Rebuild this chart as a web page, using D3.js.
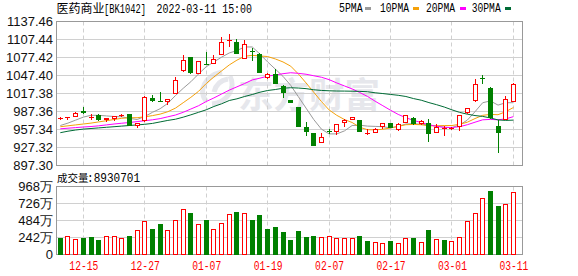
<!DOCTYPE html>
<html><head><meta charset="utf-8">
<script src="https://cdn.jsdelivr.net/npm/d3@7"></script>
<style>html,body{margin:0;padding:0;background:#fff;}svg{display:block;}</style>
</head><body>
<svg id="chart" width="578" height="276"></svg>
<script>
// ---------------- DATA ----------------
const dates = ["12-10","12-13","12-14","12-15","12-16","12-17","12-20","12-21","12-22","12-23","12-24","12-27","12-28","12-29","12-30","12-31","01-04","01-05","01-06","01-07","01-10","01-11","01-12","01-13","01-14","01-17","01-18","01-19","01-20","01-21","01-24","01-25","01-26","01-27","01-28","02-07","02-08","02-09","02-10","02-11","02-14","02-15","02-16","02-17","02-18","02-21","02-22","02-23","02-24","02-25","02-28","03-01","03-02","03-03","03-04","03-07","03-08","03-09","03-10","03-11"];
const opens = [975,977.5,978,989,978.5,981.8,972.5,974.5,979.5,983.5,963.5,971,1009.5,1005.2,1002.9,1017,1054.6,1078,1050.2,1067,1066.9,1081.9,1105,1104.1,1075.2,1088,1083.6,1043.6,1049.1,1030.7,1006,994.5,962.3,951.8,934.5,955.5,952.8,968.5,973.5,973.5,951.5,951.2,961.1,968.5,956.8,968.5,976.8,965.7,967.8,951.8,959,958.5,962.3,984.5,1004.5,1043,1027,963.5,974,1003];
const highs = [978,978.8,986,994.5,983.5,982.5,977,980.5,983,984,968.5,1013,1015.2,1019.5,1009,1045.7,1080.8,1078.5,1071.5,1086.3,1080.8,1112.4,1116.9,1108.6,1106.9,1093.6,1084.5,1051.9,1058.6,1031,1006.5,995,969.5,952,951.8,958.5,967,975,979,974,959,959.5,968.5,969,967.5,981.5,978.5,973,974.5,966,962.8,962,981.5,993.5,1041.9,1049,1027.5,974,1012.4,1035.7];
const lows = [973,972.5,977.5,984,973.5,972,970,972,979,963,960.2,970,1002.9,1004,997.4,1016.5,1053,1050.2,1050,1066,1066.5,1081.5,1094.6,1082.5,1075,1071.2,1051.5,1042,1033,1010.2,1001,962,947.3,929.5,934,950.2,949,961.2,973,952.5,948,951,958,959.5,955,968,965.2,965,936.2,951,946.2,957,955.5,984,1003.5,1033.5,975,918.5,973.5,1002.5];
const closes = [975.8,978.3,985.2,984.5,979,972.5,976,979.5,982.3,963.5,967.8,1012,1005.7,1004.5,1008.5,1040.7,1073.6,1051.2,1070.8,1066.3,1075.2,1102.9,1106.5,1083,1100.2,1086.3,1052,1050,1033.5,1017.9,1001.5,962.3,953.9,929.5,944.5,954.5,966.2,974,977.9,953,952,959,967.8,960.2,966.8,980.7,966.8,970.7,950.1,961.2,959.5,960.5,980.7,992.9,1033.5,1041.5,976.2,951.2,1008.5,1033.5];
const priorClose = 977;
const volumes = [2330000,2620000,2190000,2380000,2520000,2090000,2620000,2620000,2330000,2660000,3470000,4750000,3660000,4370000,3470000,4900000,6460000,5930000,4330000,4940000,3610000,4510000,5790000,6080000,5930000,4940000,5650000,3660000,3940000,3230000,2130000,3370000,2520000,2660000,2480000,2660000,2330000,2330000,2330000,2660000,1990000,1810000,1660000,1950000,1660000,2330000,2380000,1810000,3520000,2190000,2090000,1950000,2480000,4750000,5890000,8030000,9070000,6930000,7220000,8930701];
const ma5 = [964,968,973,978,981,981,980,979,978.5,976,974,979,986,992,1001,1014,1026,1037,1050,1062,1070,1078,1085,1089,1095,1095,1083,1070,1058,1046,1031,1012,993,974,958,950,950,955,964,964.5,963,962.5,962,960,962.5,966.5,967,966,965,963,961,960.5,965,973,987,1002,1005,998,1002,1002];
const ma10 = [962,963.5,965,966.5,968,970,972,974,976,977,977,978.5,980.5,983,987,993,1002,1011,1021,1034,1045,1055,1065,1073,1079.5,1081,1080,1079,1075,1070,1063,1050,1035,1019.5,1004,990,981,974,969,961,957,956.8,957.7,960,962.5,965.3,965.8,965.3,963.5,963.5,964,964,966,969.5,975.6,981,982.5,982,987,994];
const ma20 = [958.5,959.5,960.5,961.5,962.3,963.5,965,966.5,967.8,969,970.5,972,973.5,975.5,978.5,981.5,986,991.5,997,1004,1010,1016.5,1023,1028.5,1034,1040,1043,1046.3,1048.3,1050.4,1052,1051,1049.5,1047,1044.5,1040.5,1035,1030,1025,1019,1012.5,1004.5,997,989.5,982.5,977,972.5,969,965.3,962.5,961,960.7,962,965.3,969.5,973.5,974.2,973.5,975,978.8];
const ma30 = [952,954.5,956.5,958,959,960,961,962,963,964,965,966,967.5,970,972.5,974.5,977.9,981.8,986,990.2,995.7,1000.2,1005.7,1008.5,1012.4,1015.7,1019.5,1022.4,1024,1026.2,1027,1026.5,1025.5,1023.6,1022.5,1021.9,1021.5,1021.4,1021.2,1020.9,1020.3,1018.6,1017.3,1015.8,1014.4,1012.4,1008.9,1006.2,1002.2,998.7,994.8,990.1,985.9,982.9,980.6,979.2,976.6,973.3,972.5,973];
const priceTicks = ["1137.46","1107.44","1077.42","1047.40","1017.38","987.36","957.34","927.32","897.30"];
const volumeTicks = [0,2420000,4840000,7260000,9680000];
const volumeTickLabels = ["0","242万","484万","726万","968万"];
const dateTicks = ["12-15","12-27","01-07","01-19","02-07","02-17","03-01","03-11"];
const titleName = "医药商业", titleCode = "[BK1042]", titleTime = "2022-03-11 15:00";
const volumeLabel = "成交量", volumeLast = ":8930701";
const maNames = ["5PMA","10PMA","20PMA","30PMA"];
const watermark = "东方财富";

// ---------------- STYLE / LAYOUT ----------------
const RED = "#ff0000", GREEN = "#008000";
const maColors = ["#9a9a9a","#f5a10a","#ff00ff","#006b35"];
const mono = "'Liberation Mono','DejaVu Sans Mono',monospace";
const cjk = "'Noto Sans CJK SC','Noto Sans',sans-serif";
const sans = "'Liberation Sans',Arial,sans-serif";
const L = 56.5, R = 522.5, T1 = 21.5, B1 = 165.5, T2 = 186.5, B2 = 254.5;

const svg = d3.select("#chart");
const x = d3.scalePoint().domain(dates).range([60.3, 513.4]);
const yP = d3.scaleLinear().domain([+priceTicks[8], +priceTicks[0]]).range([B1, T1]);
const yV = d3.scaleLinear().domain([0, volumeTicks[4]]).range([B2, T2]);
const cxOf = d => Math.floor(x(d)) + 0.5;

// watermark
const wm = svg.append("g").attr("fill", "#e6e7ec");
wm.append("text").attr("x", 238).attr("y", 108).attr("font-family", cjk).attr("font-weight", 700)
  .attr("font-size", 35).attr("textLength", 142).attr("lengthAdjust", "spacingAndGlyphs").text(watermark);
wm.append("path").attr("fill", "none").attr("stroke", "#e6e7ec").attr("stroke-width", 5)
  .attr("d", "M206,101 C198,90 205,76 222,72 M212,104 C228,102 236,88 230,76 M214,92 C216,84 222,80 228,79");

// gridlines
const grid = svg.append("g").attr("stroke", "#d0d0d0").attr("stroke-width", 1);
priceTicks.slice(1, -1).forEach(t => {
  const yy = Math.round(yP(+t) - 0.5) + 0.5;
  grid.append("line").attr("x1", L).attr("x2", R).attr("y1", yy).attr("y2", yy);
});
volumeTicks.slice(1, -1).forEach(t => {
  const yy = Math.round(yV(t) - 0.5) + 0.5;
  grid.append("line").attr("x1", L).attr("x2", R).attr("y1", yy).attr("y2", yy);
});
dateTicks.forEach(d => {
  const xx = cxOf(d);
  grid.append("line").attr("x1", xx).attr("x2", xx).attr("y1", T1).attr("y2", B1).attr("stroke-dasharray", "4,3");
  grid.append("line").attr("x1", xx).attr("x2", xx).attr("y1", T2).attr("y2", B2).attr("stroke-dasharray", "4,3");
});

// frames
svg.append("rect").attr("x", L).attr("y", T1).attr("width", R - L).attr("height", B1 - T1)
  .attr("fill", "none").attr("stroke", "#999");
svg.append("rect").attr("x", L).attr("y", T2).attr("width", R - L).attr("height", B2 - T2)
  .attr("fill", "none").attr("stroke", "#999");

// moving averages
const idx = d3.range(dates.length);
[ma5, ma10, ma20, ma30].forEach((arr, k) => {
  const line = d3.line().x(i => x(dates[i])).y(i => yP(arr[i]));
  svg.append("path").attr("d", line(idx)).attr("fill", "none").attr("stroke", maColors[k]).attr("stroke-width", 1);
});

// candles
const cg = svg.append("g");
cg.selectAll("g").data(idx).join("g").each(function(i) {
  const g = d3.select(this);
  const cx = cxOf(dates[i]);
  const o = opens[i], c = closes[i], h = highs[i], l = lows[i];
  const up = c >= o, col = up ? RED : GREEN;
  const yt = Math.round(yP(Math.max(o, c))), yb = Math.round(yP(Math.min(o, c)));
  const yh = Math.round(yP(h)), yl = Math.round(yP(l));
  const hgt = yb - yt;
  if (up && hgt > 1) {
    if (yt > yh) g.append("line").attr("x1", cx).attr("x2", cx).attr("y1", yh).attr("y2", yt).attr("stroke", col);
    if (yl > yb) g.append("line").attr("x1", cx).attr("x2", cx).attr("y1", yb).attr("y2", yl).attr("stroke", col);
  } else {
    g.append("line").attr("x1", cx).attr("x2", cx).attr("y1", yh).attr("y2", Math.max(yl, yh + 1)).attr("stroke", col);
  }
  if (hgt <= 1) {
    g.append("rect").attr("x", cx - 2.5).attr("y", yt).attr("width", 5).attr("height", 1).attr("fill", col);
  } else if (up) {
    g.append("rect").attr("x", cx - 2).attr("y", yt + 0.5).attr("width", 4).attr("height", hgt - 1)
      .attr("fill", "#fff").attr("stroke", col);
  } else {
    g.append("rect").attr("x", cx - 2.5).attr("y", yt).attr("width", 5).attr("height", hgt).attr("fill", col);
  }
});

// volume bars
const vg = svg.append("g");
vg.selectAll("rect").data(idx).join("rect").each(function(i) {
  const r = d3.select(this);
  const cx = cxOf(dates[i]);
  const prev = i === 0 ? priorClose : closes[i - 1];
  const up = closes[i] >= prev;
  const top = Math.round(yV(volumes[i]));
  if (up) r.attr("x", cx - 2).attr("y", top + 0.5).attr("width", 4).attr("height", 254 - top)
           .attr("fill", "#fff").attr("stroke", RED);
  else r.attr("x", cx - 2.5).attr("y", top).attr("width", 5).attr("height", 255 - top).attr("fill", GREEN);
});

// axes
const ay = svg.append("g").attr("transform", `translate(${L},0)`)
  .call(d3.axisLeft(yP).tickValues(priceTicks.map(Number)).tickFormat((d, i) => priceTicks[i]).tickSize(0).tickPadding(3.5));
ay.select(".domain").remove();
ay.attr("font-size", 13).attr("font-family", sans).attr("color", "#111");

const av = svg.append("g").attr("transform", `translate(${L},0)`)
  .call(d3.axisLeft(yV).tickValues(volumeTicks).tickFormat((d, i) => volumeTickLabels[i]).tickSize(0).tickPadding(3.5));
av.select(".domain").remove();
av.attr("font-size", 13).attr("font-family", sans).attr("color", "#111");

const ax = svg.append("g").attr("transform", "translate(0,261)")
  .call(d3.axisBottom(x).tickValues(dateTicks).tickSize(0).tickPadding(0));
ax.select(".domain").remove();
ax.attr("font-size", 12).attr("font-family", mono).attr("color", RED);
ax.selectAll("text").attr("textLength", 29).attr("lengthAdjust", "spacingAndGlyphs");

// title
svg.append("text").attr("x", 56.5).attr("y", 13).attr("font-family", cjk).attr("font-size", 12).attr("fill", "#000").text(titleName);
svg.append("text").attr("x", 104).attr("y", 13).attr("font-family", mono).attr("font-size", 12).attr("fill", "#000")
  .attr("textLength", 42).attr("lengthAdjust", "spacingAndGlyphs").text(titleCode);
svg.append("text").attr("x", 156.5).attr("y", 13).attr("font-family", mono).attr("font-size", 12).attr("fill", "#000")
  .attr("textLength", 95.5).attr("lengthAdjust", "spacingAndGlyphs").text(titleTime);

// legend
const legX = [339, 380, 426, 471.7], legW = [23.7, 29, 29, 29], markX = [365, 413, 460, 505];
maNames.forEach((n, k) => {
  svg.append("text").attr("x", legX[k]).attr("y", 12).attr("font-family", mono).attr("font-size", 12).attr("fill", "#000")
    .attr("textLength", legW[k]).attr("lengthAdjust", "spacingAndGlyphs").text(n);
  svg.append("rect").attr("x", markX[k]).attr("y", 7).attr("width", 6).attr("height", 3).attr("fill", maColors[k]);
});

// volume label
svg.append("text").attr("x", 57).attr("y", 181.5).attr("font-family", cjk).attr("font-size", 10.5).attr("fill", "#000").text(volumeLabel);
svg.append("text").attr("x", 87).attr("y", 181.5).attr("font-family", mono).attr("font-size", 12).attr("fill", "#000")
  .attr("textLength", 53).attr("lengthAdjust", "spacingAndGlyphs").text(volumeLast);
</script>
</body></html>
